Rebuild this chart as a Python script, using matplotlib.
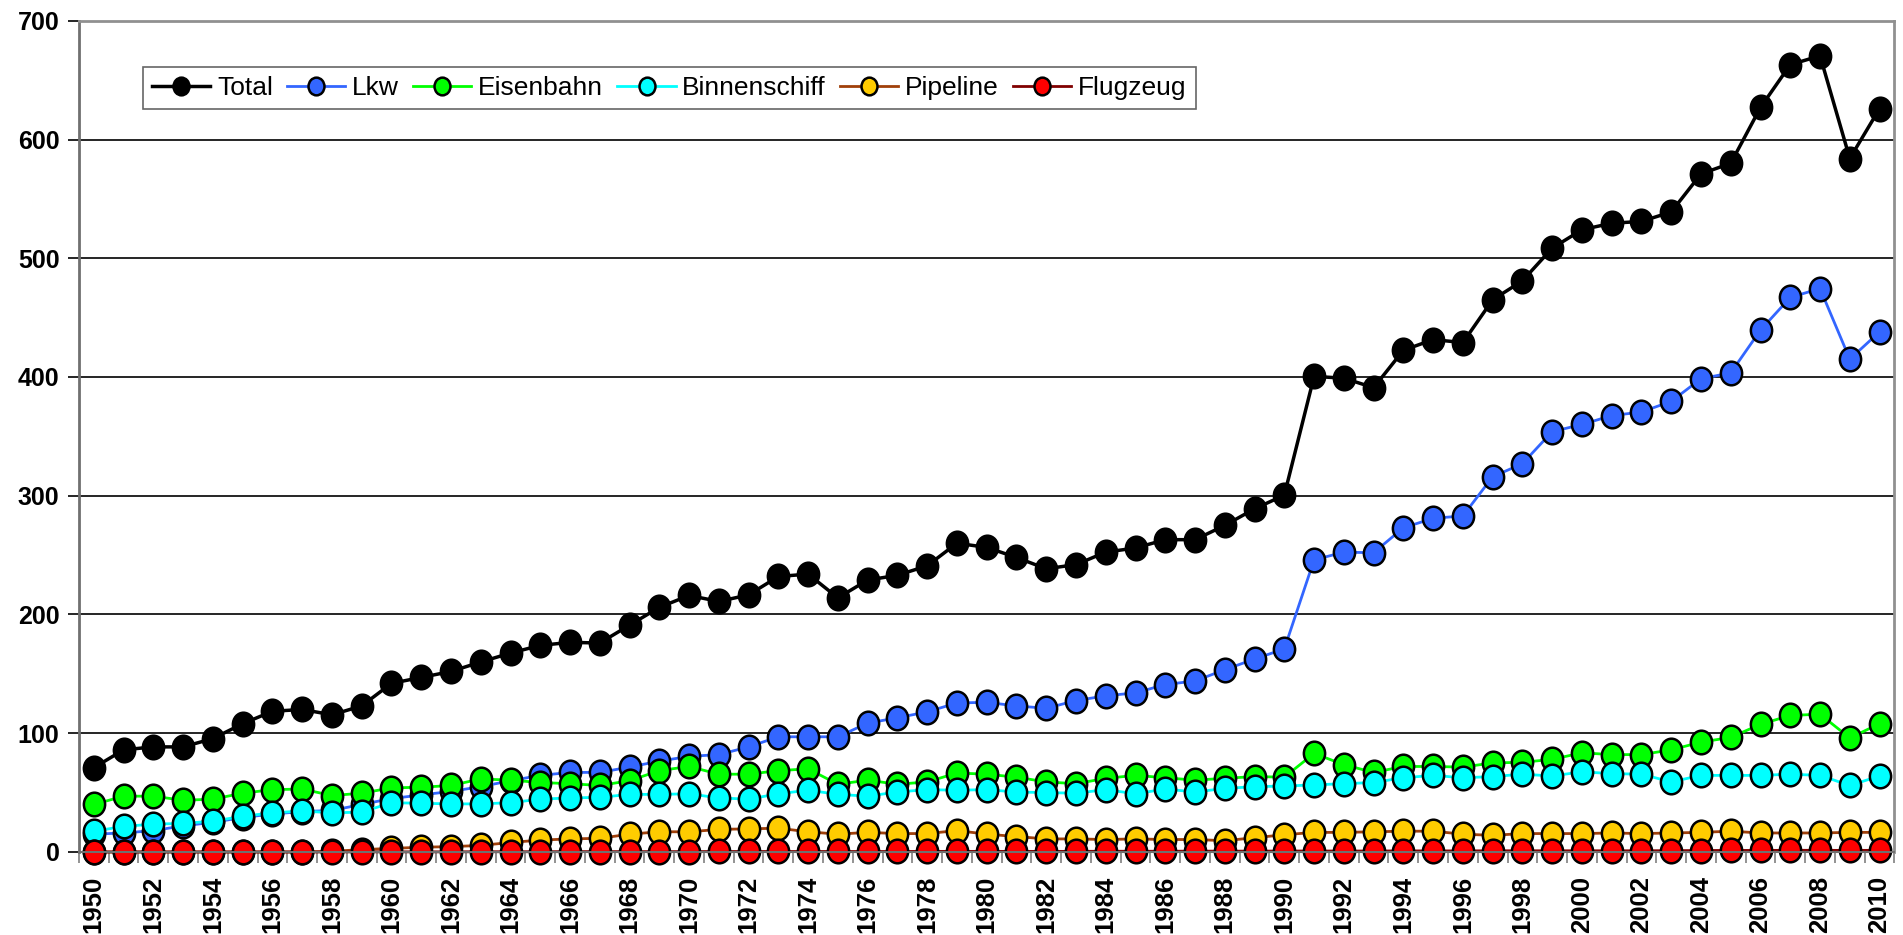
import numpy as np
import matplotlib
matplotlib.use("Agg")
import matplotlib.pyplot as plt
from matplotlib.path import Path
from matplotlib.ticker import MultipleLocator

years = list(range(1950, 2011))

total = [71, 86, 88.5, 88.5, 95.5, 108, 118.5, 120, 115.5, 123,
         142, 147, 152, 160, 167.5, 174, 176.5, 176, 191, 206,
         216, 211, 216.5, 232, 234, 214, 229, 233, 241, 260,
         256.5, 248, 238.5, 242, 252.5, 256, 263, 263, 275, 289,
         300.5, 400.5, 399, 391, 422.5, 431.5, 429, 465, 481, 508.5,
         524, 529.5, 531, 539, 571, 580, 627, 663, 670.5, 584,
         626]
lkw = [15, 16, 18, 22, 25, 29, 32, 34, 35, 40,
       45, 48, 51, 55, 60, 64.5, 67, 67, 71.5, 76.5,
       80.5, 82, 88.5, 97, 97, 97, 108.5, 113, 118, 125.5,
       126, 123, 121, 127.5, 131.5, 134, 141, 144, 153.5, 162.5,
       171, 246, 252.5, 252, 273, 281, 283, 316, 327, 354,
       360, 367.5, 370.5, 379.5, 398.5, 403.5, 439.5, 467, 474.5, 415,
       438]
eisenbahn = [40, 47, 47, 43.5, 44.5, 49.5, 52.5, 53, 47.5, 49.5,
             54, 54.5, 56, 61.5, 60.5, 58.5, 57.5, 56, 60, 68.5,
             72, 65.5, 65.5, 68.5, 70, 57, 60.5, 57, 59, 66.5,
             65.5, 63, 59, 57.5, 62, 64.5, 62.5, 60.5, 62, 63.5,
             63, 83, 73.5, 67, 72, 72, 71.5, 75, 75.5, 78,
             83.5, 82, 82, 86, 92.5, 96.5, 107.5, 115, 116, 96,
             108]
binnenschiff = [17.5, 21.5, 23.5, 24, 26, 30, 33, 34.5, 33, 33.5,
                41.5, 41, 40.5, 40.5, 41.5, 44.5, 45.5, 46, 48.5, 48.5,
                49, 45.5, 44.5, 49, 52, 48.5, 47, 50.5, 52.5, 52,
                52.5, 50.5, 50, 49.5, 52.5, 49, 53, 50.5, 53.5, 55,
                55.5, 56.5, 57.5, 58.5, 62.5, 64.5, 62.5, 63.5, 65.5, 64,
                67.5, 66, 65.5, 59, 64.5, 64.5, 64.5, 65.5, 64.5, 56,
                64]
pipeline = [0, 0, 0, 0, 0, 0, 0, 0, 0.5, 2,
            3, 4, 4.5, 5.5, 8, 10, 11, 11.5, 15, 17,
            17, 19, 19.5, 20, 17, 15, 16.5, 15.5, 15.5, 18,
            15, 13, 11, 11, 10.5, 11, 10.5, 10.5, 9.5, 12,
            14.5, 16.5, 16.5, 17, 17.5, 17.5, 15, 14, 15.5, 15.5,
            15.5, 16, 15.5, 16, 16.5, 17.5, 16, 16, 16, 16.5,
            16.5]
flugzeug = [0, 0, 0, 0, 0, 0, 0, 0, 0, 0.1,
            0.1, 0.1, 0.1, 0.2, 0.2, 0.2, 0.3, 0.3, 0.3, 0.3,
            0.3, 0.4, 0.4, 0.4, 0.4, 0.4, 0.4, 0.4, 0.5, 0.5,
            0.5, 0.5, 0.5, 0.5, 0.6, 0.6, 0.6, 0.7, 0.7, 0.7,
            0.8, 0.8, 0.8, 0.8, 0.9, 0.9, 0.9, 1.0, 1.0, 1.0,
            1.0, 1.0, 1.0, 1.1, 1.2, 1.3, 1.3, 1.4, 1.4, 1.3,
            1.4]

series = [
    ("Total", total, "#000000", "#000000", 2.5),
    ("Lkw", lkw, "#3366FF", "#3366FF", 2.0),
    ("Eisenbahn", eisenbahn, "#00FF00", "#00FF00", 2.0),
    ("Binnenschiff", binnenschiff, "#00FFFF", "#00FFFF", 2.0),
    ("Pipeline", pipeline, "#A0400A", "#FFCC00", 2.0),
    ("Flugzeug", flugzeug, "#800000", "#FF0000", 2.0),
]

plt.rcParams['font.family'] = ['Liberation Sans', 'DejaVu Sans']

# slightly tall ellipse, like the original markers
circ = Path.unit_circle()
oval = Path(circ.vertices * [0.9, 1.0], circ.codes)

fig = plt.figure(figsize=(19.03, 9.35), dpi=100)
ax = fig.add_axes([0.0415, 0.0888, 0.954, 0.889])

for name, vals, lc, fc, lw in series:
    ax.plot(years, vals, color=lc, lw=lw, marker=oval, markersize=17,
            markerfacecolor=fc, markeredgecolor='black', markeredgewidth=1.8,
            label=name, clip_on=False)

ax.set_xlim(1949.5, 2010.5)
ax.set_ylim(0, 700)
ax.yaxis.set_major_locator(MultipleLocator(100))
ax.grid(axis='y', color='black', lw=1.2)
ax.set_axisbelow(True)

ax.set_xticks(years[::2])
ax.set_xticklabels([str(y) for y in years[::2]], rotation=90,
                   fontsize=18.5, fontweight='bold')
ax.xaxis.set_minor_locator(MultipleLocator(1, offset=0.5))
ax.tick_params(axis='x', which='major', length=0, pad=17)
ax.tick_params(axis='x', which='minor', length=8, width=1.2, color='#808080')
ax.tick_params(axis='y', length=8, width=1.2, color='black', labelsize=18, pad=6)
for lab in ax.get_yticklabels():
    lab.set_fontweight('bold')

for s in ['top', 'right']:
    ax.spines[s].set_color('#909090')
    ax.spines[s].set_linewidth(2)
ax.spines['left'].set_color('#707070')
ax.spines['left'].set_linewidth(2)
ax.spines['bottom'].set_color('#707070')
ax.spines['bottom'].set_linewidth(1.5)

leg = ax.legend(loc='upper left', bbox_to_anchor=(143 / 1903, 1 - 67 / 935),
                bbox_transform=fig.transFigure, ncol=6, fontsize=19,
                frameon=True, fancybox=False, edgecolor='#404040',
                handlelength=2.2, handletextpad=0.25, columnspacing=0.55,
                borderpad=0.35, borderaxespad=0, markerscale=0.75)
leg.get_frame().set_linewidth(1.2)

fig.savefig("out.png", dpi=100)
